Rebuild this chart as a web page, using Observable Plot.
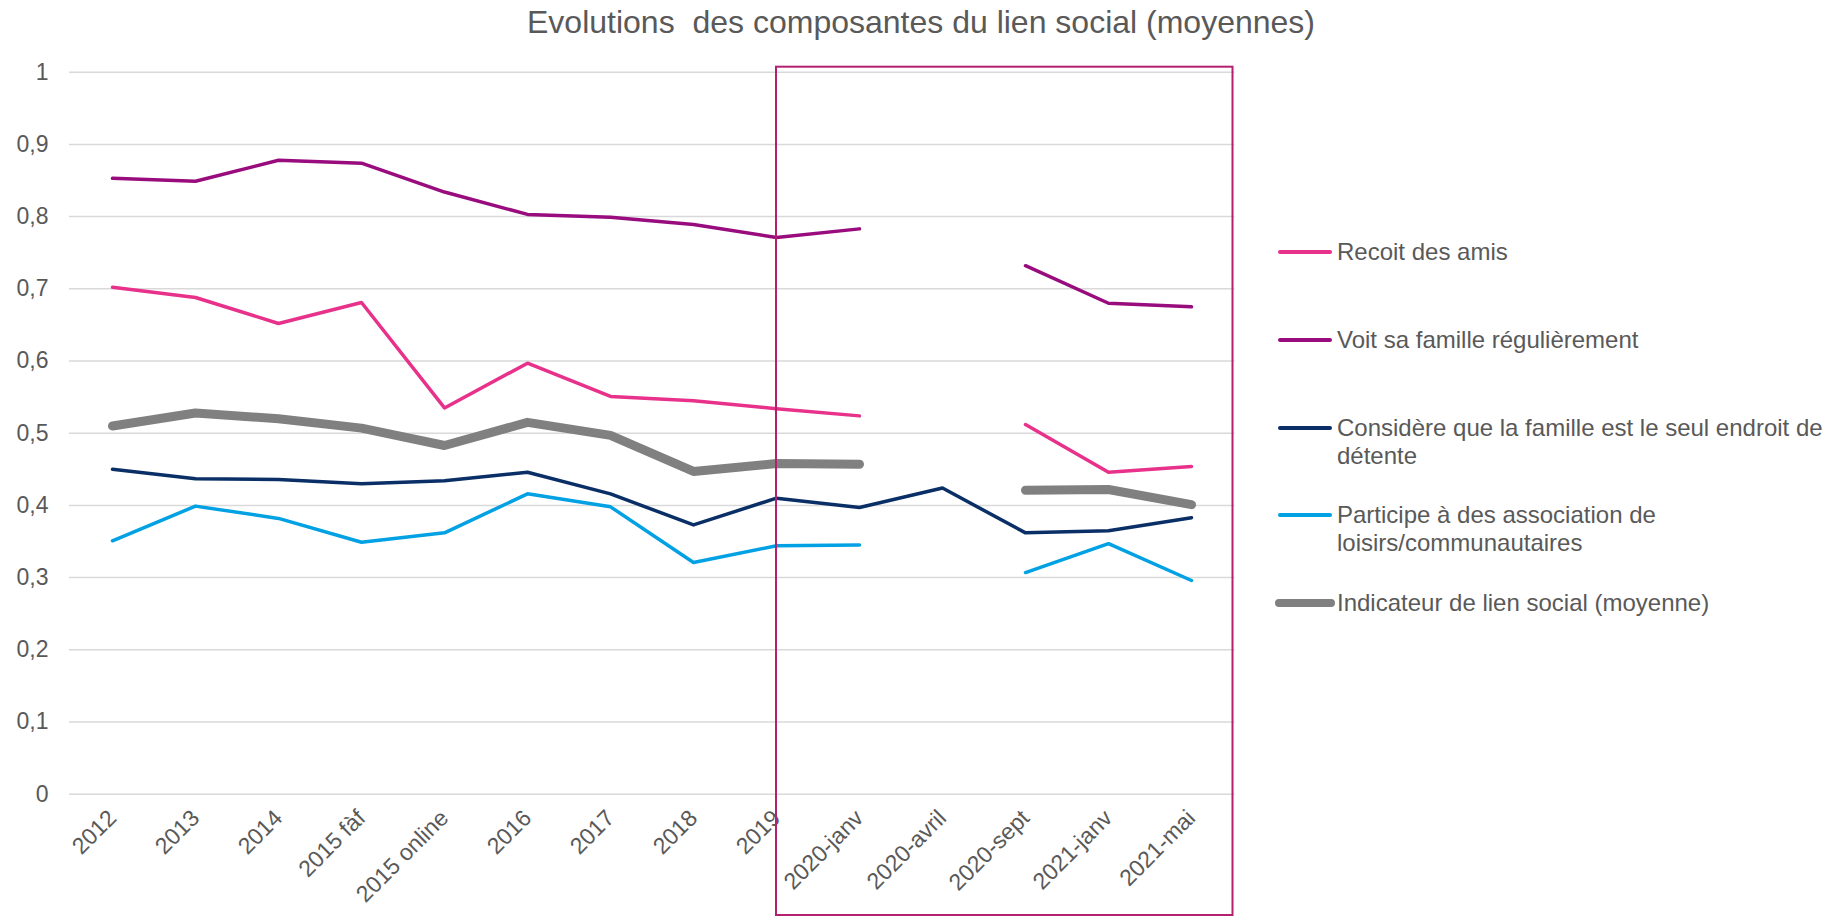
<!DOCTYPE html>
<html>
<head>
<meta charset="utf-8">
<script src="https://cdn.jsdelivr.net/npm/d3@7"></script>
<script src="https://cdn.jsdelivr.net/npm/@observablehq/plot@0.6"></script>
<style>
  html, body { margin: 0; padding: 0; background: #fff; }
  #page { position: relative; width: 1828px; height: 917px; overflow: hidden; font-family: "Liberation Sans", Arial, sans-serif; color: #595959; }
  #title { position: absolute; left: 7px; top: 6px; width: 1828px; text-align: center; font-size: 32px; line-height: 32px; white-space: pre; }
  #chart { position: absolute; left: 0; top: 46px; }
  .leg { position: absolute; left: 1337px; font-size: 24px; line-height: 28px; white-space: pre; }
  .sw { position: absolute; }
</style>
</head>
<body>
<div id="page">
  <div id="title"></div>
  <div id="chart"></div>
  <div id="legend"></div>
</div>
<script>
const titleText = "Evolutions  des composantes du lien social (moyennes)";

const categories = ["2012","2013","2014","2015 fàf","2015 online","2016","2017","2018","2019","2020-janv","2020-avril","2020-sept","2021-janv","2021-mai"];

const recoit     = [0.702,0.688,0.652,0.681,0.535,0.597,0.551,0.545,0.534,0.524,null,0.512,0.446,0.454];
const voit       = [0.853,0.849,0.878,0.874,0.834,0.803,0.799,0.789,0.771,0.783,null,0.732,0.680,0.675];
const considere  = [0.450,0.437,0.436,0.430,0.434,0.446,0.416,0.373,0.410,0.397,0.424,0.362,0.365,0.383];
const participe  = [0.351,0.399,0.382,0.349,0.362,0.416,0.398,0.321,0.344,0.345,null,0.307,0.347,0.296];
const indicateur = [0.510,0.528,0.520,0.507,0.483,0.515,0.497,0.447,0.458,0.457,null,0.421,0.422,0.401];

const seriesNames = [
  "Recoit des amis",
  "Voit sa famille régulièrement",
  "Considère que la famille est le seul endroit de\ndétente",
  "Participe à des association de\nloisirs/communautaires",
  "Indicateur de lien social (moyenne)"
];
const seriesValues = [recoit, voit, considere, participe, indicateur];
const seriesColors = ["#E8318B", "#980C7E", "#0A2F66", "#02A1E4", "#808080"];
const seriesWidths = [3.5, 3.5, 3.5, 3.5, 9];

const yTicks = [0,0.1,0.2,0.3,0.4,0.5,0.6,0.7,0.8,0.9,1];
const fmt = d => String(+d.toFixed(1)).replace(".", ",");

document.getElementById("title").textContent = titleText;

const rows = [];
seriesNames.forEach((name, s) => {
  categories.forEach((c, i) => rows.push({ cat: c, value: seriesValues[s][i], series: s }));
});

const chart = Plot.plot({
  width: 1250,
  height: 871,
  marginLeft: 69,
  marginRight: 15.5,
  marginTop: 25.7,
  marginBottom: 123.3,
  style: { fontFamily: "Liberation Sans, Arial, sans-serif", color: "#595959", background: "transparent", overflow: "visible" },
  x: { type: "point", domain: categories, padding: 0.5, label: null },
  y: { domain: [0, 1], label: null },
  marks: [
    Plot.gridY(yTicks, { stroke: "#D9D9D9", strokeOpacity: 1, strokeWidth: 1.5 }),
    Plot.axisY(yTicks, { tickSize: 0, tickPadding: 21, fontSize: 23, tickFormat: fmt, label: null }),
    Plot.axisX({ tickSize: 0, tickRotate: -45, tickPadding: 20, fontSize: 23, label: null }),
    ...seriesNames.map((name, s) => Plot.line(rows.filter(r => r.series === s), {
      x: "cat", y: "value",
      stroke: seriesColors[s], strokeWidth: seriesWidths[s],
      strokeLinecap: "round", strokeLinejoin: "round"
    }))
  ]
});
document.getElementById("chart").appendChild(chart);

// highlight box around 2019 → 2021-mai, positioned through Plot's scales
const xs = chart.scale("x");
const ys = chart.scale("y");
const bx0 = xs.apply("2019");
const bx1 = xs.apply("2021-mai") + xs.step / 2;
const by0 = ys.apply(1) - 5;
const by1 = 869;
d3.select(chart).append("rect")
  .attr("x", bx0).attr("y", by0)
  .attr("width", bx1 - bx0).attr("height", by1 - by0)
  .attr("fill", "none").attr("stroke", "#B3206D").attr("stroke-width", 2);

// legend
const legendY = [252, 339.5, 427.5, 515, 603];
const legend = document.getElementById("legend");
seriesNames.forEach((name, s) => {
  const thick = seriesWidths[s] > 5;
  const w = thick ? 8 : 4;
  const sw = document.createElement("div");
  sw.className = "sw";
  const x0 = thick ? 1275 : 1277.5;
  const x1 = thick ? 1335 : 1332;
  sw.style.left = x0 + "px";
  sw.style.width = (x1 - x0) + "px";
  sw.style.top = (legendY[s] - w / 2) + "px";
  sw.style.height = w + "px";
  sw.style.borderRadius = (w / 2) + "px";
  sw.style.background = seriesColors[s];
  legend.appendChild(sw);
  const t = document.createElement("div");
  t.className = "leg";
  t.style.top = (legendY[s] - 14) + "px";
  t.textContent = name;
  legend.appendChild(t);
});
</script>
</body>
</html>
